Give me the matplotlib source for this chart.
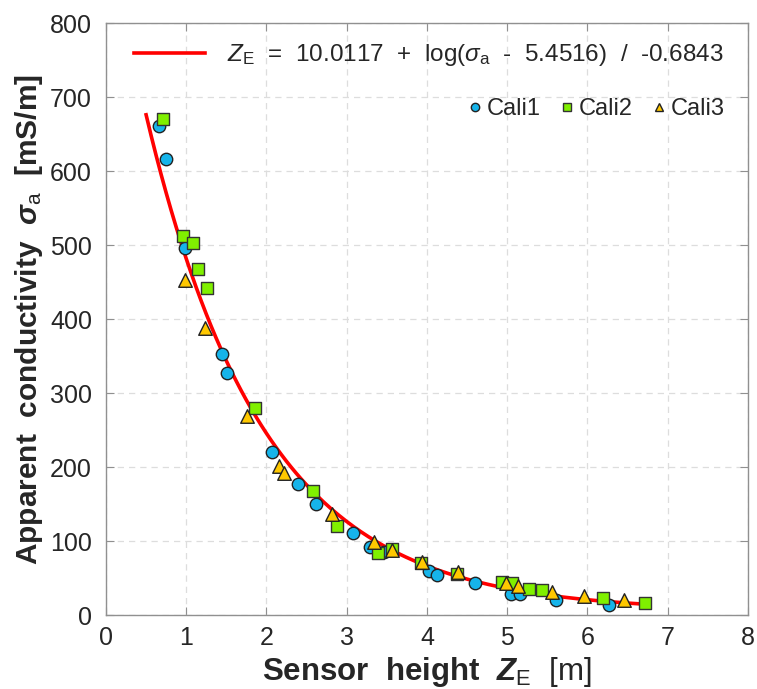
import numpy as np
import matplotlib
matplotlib.use("Agg")
import matplotlib.pyplot as plt
from matplotlib.lines import Line2D

plt.rcParams["font.family"] = ["Liberation Sans", "DejaVu Sans"]
plt.rcParams["mathtext.fontset"] = "custom"
plt.rcParams["mathtext.rm"] = "Liberation Sans"
plt.rcParams["mathtext.it"] = "Liberation Sans:italic"
plt.rcParams["mathtext.bf"] = "Liberation Sans:bold"
plt.rcParams["mathtext.bfit"] = "Liberation Sans:bold:italic"

cali1_z = [0.66, 0.75, 0.98, 1.44, 1.51, 2.07, 2.39, 2.62, 3.08, 3.29, 3.47,
           4.02, 4.13, 4.60, 5.05, 5.16, 5.61, 6.27]
cali1_s = [662, 617, 497, 353, 327, 221, 177, 151, 111, 92, 86,
           60, 55, 43, 29, 29, 20, 14]

cali2_z = [0.71, 0.96, 1.09, 1.15, 1.26, 1.86, 2.58, 2.88, 3.39, 3.57, 3.93,
           4.38, 4.94, 5.06, 5.27, 5.44, 6.20, 6.72]
cali2_s = [671, 513, 503, 468, 442, 280, 168, 120, 84, 89, 70,
           56, 45, 43, 36, 34, 23, 16]

cali3_z = [0.98, 1.24, 1.76, 2.15, 2.22, 2.82, 3.34, 3.56, 3.94, 4.39,
           4.98, 5.13, 5.56, 5.96, 6.46]
cali3_s = [453, 388, 269, 202, 192, 137, 99, 88, 72, 59,
           43, 39, 32, 26, 21]

# fitted model from the legend
fit_a, fit_b, fit_c = 10.0117, 5.4516, -0.6843
fit_range = (0.5, 6.7)


def main():
    fig = plt.figure(figsize=(7.57, 6.89), dpi=100)
    ax = fig.add_axes([0.140, 0.107, 0.848, 0.859])

    zz = np.linspace(*fit_range, 200)
    ss = fit_b + np.exp(fit_c * (zz - fit_a))
    fit_line, = ax.plot(zz, ss, color="#ff0000", lw=2.6, zorder=3)

    ax.scatter(cali1_z, cali1_s, s=80, marker="o", facecolor="#16b4ea",
               edgecolor="#222222", lw=1.0, zorder=4)
    ax.scatter(cali2_z, cali2_s, s=85, marker="s", facecolor="#80f000",
               edgecolor="#333333", lw=1.0, zorder=4)
    ax.scatter(cali3_z, cali3_s, s=95, marker="^", facecolor="#ffc800",
               edgecolor="#222222", lw=1.0, zorder=4)

    ax.set_xlim(0, 8)
    ax.set_ylim(0, 800)
    ax.set_xticks(range(0, 9))
    ax.set_yticks(range(0, 801, 100))
    ax.grid(True, ls=(0, (5, 4)), color="#dddddd", lw=0.9)
    ax.set_axisbelow(True)
    for sp in ax.spines.values():
        sp.set_color("#909090")
        sp.set_linewidth(1.0)
    ax.tick_params(direction="in", top=True, right=True, length=6,
                   color="#909090", labelsize=18, labelcolor="#262626")
    ax.tick_params(axis="y", pad=10)
    ax.tick_params(axis="x", pad=8)

    ax.set_xlabel(r"Sensor  height  $\mathbfit{Z}_{\mathrm{E}}$  $\mathrm{[m]}$",
                  fontsize=22.5, fontweight="bold", color="#262626", labelpad=3)
    ax.set_ylabel(r"Apparent  conductivity  $\mathbfit{\sigma}_{\mathrm{a}}$  [mS/m]",
                  fontsize=21.5, fontweight="bold", color="#262626", labelpad=4)

    label = (r"$Z_{\mathrm{E}}$  =  10.0117  +  log($\sigma_{\mathrm{a}}$  -  5.4516)"
             r"  /  -0.6843")
    leg1 = ax.legend([fit_line], [label], loc="upper left",
                     bbox_to_anchor=(0.01, 1.005), frameon=False, fontsize=17.5,
                     handlelength=2.9, handletextpad=0.9, labelcolor="#262626")
    ax.add_artist(leg1)

    handles = [
        Line2D([], [], ls="", marker="o", ms=6, mfc="#16b4ea", mec="#222222"),
        Line2D([], [], ls="", marker="s", ms=5.5, mfc="#80f000", mec="#333333"),
        Line2D([], [], ls="", marker="^", ms=6, mfc="#ffc800", mec="#222222"),
    ]
    ax.legend(handles, ["Cali1", "Cali2", "Cali3"], loc="upper right",
              bbox_to_anchor=(0.997, 0.91), ncol=3, frameon=False,
              fontsize=17, handlelength=0.6, handletextpad=0.2,
              columnspacing=0.8, labelcolor="#262626")

    fig.savefig("out.png", dpi=100)


if __name__ == "__main__":
    main()
